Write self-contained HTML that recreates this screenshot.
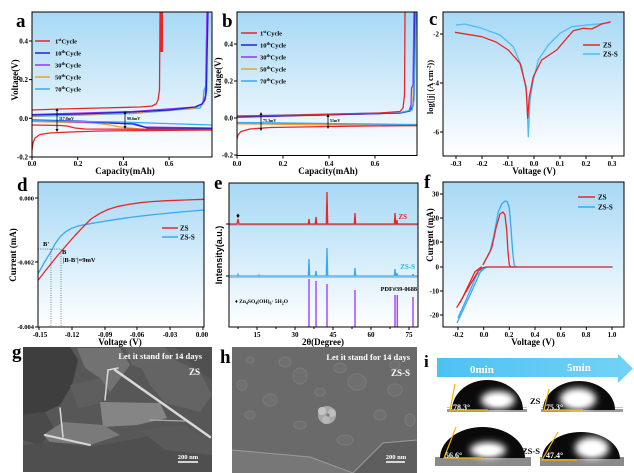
<!DOCTYPE html>
<html><head><meta charset="utf-8"><style>html,body{margin:0;padding:0;background:#fff}svg{display:block}</style></head>
<body>
<svg width="634" height="473" viewBox="0 0 634 473" xmlns="http://www.w3.org/2000/svg" font-family="'Liberation Serif', serif" font-weight="bold">
<defs>
<linearGradient id="bg" x1="0" y1="0" x2="0" y2="1"><stop offset="0" stop-color="#a6d8f5"/><stop offset="1" stop-color="#ffffff"/></linearGradient>
<linearGradient id="arr" x1="0" y1="0" x2="1" y2="0"><stop offset="0" stop-color="#4cc2f1"/><stop offset="1" stop-color="#73d2f6"/></linearGradient>
<clipPath id="ca"><rect x="32" y="12" width="180" height="145"/></clipPath>
<clipPath id="cb"><rect x="237" y="12" width="180" height="143.5"/></clipPath>
<clipPath id="cc"><rect x="443" y="12" width="181" height="144"/></clipPath>
<clipPath id="cd"><rect x="38" y="182" width="166" height="145"/></clipPath>
<clipPath id="cf"><rect x="443" y="182" width="181" height="145"/></clipPath>
<clipPath id="cg"><rect x="23" y="347" width="189" height="125"/></clipPath>
<filter id="blur" x="-50%" y="-50%" width="200%" height="200%"><feGaussianBlur stdDeviation="3.5"/></filter>
<filter id="blur1" x="-20%" y="-20%" width="140%" height="140%"><feGaussianBlur stdDeviation="1.5"/></filter>
</defs>
<rect width="634" height="473" fill="#fff"/>

<!-- ============ PANEL A ============ -->
<rect x="32" y="12" width="180" height="145" fill="url(#bg)"/>
<g clip-path="url(#ca)" fill="none" stroke-width="1.3" stroke-linejoin="round">
  <path d="M32,116.5 L133,113.5 L200,108 L203,103 L204,90 L205,88 L206,85 L207,12" stroke="#35aaf5"/>
  <path d="M32,116 L133,113 L195,108 L203,104 L206,95 L207.5,12" stroke="#f0a030"/>
  <path d="M32,114.5 L133,111.5 L195,107 L202,104 L205.5,96 L207,12" stroke="#9933ff"/>
  <path d="M32,115 L80,114 L133,112 L170,110 L195,107 L202,104 L205,100 L206.5,90 L207,60 L208,12" stroke="#2222dd"/>
  <path d="M32,110 L60,109 L100,108 L140,107 L152,106 L156,104 L158,100 L159.5,90 L160,12" stroke="#e8262a"/>
  <rect x="159.5" y="12" width="3.5" height="40" fill="#e8262a" stroke="none"/>
  <path d="M32,121.5 L95,123 L110,125 L120,127 L140,129 L213,130" stroke="#f0a030"/>
  <path d="M32,120.5 L110,123 L135,124 L145,127 L213,128" stroke="#9933ff"/>
  <path d="M32,120 L80,121 L110,123 L133,124 L140,126 L148,128 L213,128.5" stroke="#2222dd"/>
  <path d="M32,120.7 L120,122 L213,125" stroke="#35aaf5"/>
  <path d="M32,125 L60,125.5 L67,126 L75,128 L85,129 L213,129.5" stroke="#e8262a"/>
  <path d="M32,150 L33,143 L35,138 L40,134.5 L50,133 L70,132 L100,131 L213,130" stroke="#e8262a"/>
</g>
<g stroke="#000" stroke-width="0.8">
  <line x1="57" y1="109" x2="57" y2="131"/><line x1="125" y1="112" x2="125" y2="128"/>
</g>
<path d="M55.5,111 L57,108 L58.5,111 Z M55.5,129 L57,132 L58.5,129 Z M123.5,114 L125,111 L126.5,114 Z M123.5,126 L125,129 L126.5,126 Z" fill="#000"/>
<text x="59" y="120" font-size="4">117.8mV</text>
<text x="127" y="120" font-size="4">90.6mV</text>
<rect x="32" y="12" width="180" height="145" fill="none" stroke="#000" stroke-width="1"/>
<g stroke="#000" stroke-width="1">
  <line x1="29" y1="41" x2="32" y2="41"/><line x1="29" y1="79.6" x2="32" y2="79.6"/><line x1="29" y1="118.3" x2="32" y2="118.3"/><line x1="29" y1="157" x2="32" y2="157"/>
  <line x1="32" y1="157" x2="32" y2="160"/><line x1="77.7" y1="157" x2="77.7" y2="160"/><line x1="123.4" y1="157" x2="123.4" y2="160"/><line x1="169.1" y1="157" x2="169.1" y2="160"/>
</g>
<g font-size="7" text-anchor="end">
  <text x="28" y="43.5">0.4</text><text x="28" y="82">0.2</text><text x="28" y="121">0.0</text><text x="28" y="159.5">-0.2</text>
</g>
<g font-size="7" text-anchor="middle">
  <text x="32" y="166">0.0</text><text x="78" y="166">0.2</text><text x="123" y="166">0.4</text><text x="169" y="166">0.6</text>
</g>
<text x="125" y="174" font-size="9" text-anchor="middle">Capacity(mAh)</text>
<text x="15" y="83" font-size="9" text-anchor="middle" transform="rotate(-90 15 80)">Voltage(V)</text>
<text x="16" y="27" font-size="19">a</text>
<g stroke-width="1.5">
  <line x1="35" y1="41" x2="50" y2="41" stroke="#e8262a"/>
  <line x1="35" y1="53" x2="50" y2="53" stroke="#2222dd"/>
  <line x1="35" y1="65" x2="50" y2="65" stroke="#9933ff"/>
  <line x1="35" y1="77" x2="50" y2="77" stroke="#f0a030"/>
  <line x1="35" y1="89" x2="50" y2="89" stroke="#35aaf5"/>
</g>
<g font-size="6.5">
  <text x="55" y="43.5">1<tspan dy="-2.5" font-size="4.5">st</tspan><tspan dy="2.5">Cycle</tspan></text>
  <text x="55" y="55.5">10<tspan dy="-2.5" font-size="4.5">th</tspan><tspan dy="2.5">Cycle</tspan></text>
  <text x="55" y="67.5">30<tspan dy="-2.5" font-size="4.5">th</tspan><tspan dy="2.5">Cycle</tspan></text>
  <text x="55" y="79.5">50<tspan dy="-2.5" font-size="4.5">th</tspan><tspan dy="2.5">Cycle</tspan></text>
  <text x="55" y="91.5">70<tspan dy="-2.5" font-size="4.5">th</tspan><tspan dy="2.5">Cycle</tspan></text>
</g>

<!-- ============ PANEL B ============ -->
<rect x="237" y="12" width="180" height="143.5" fill="url(#bg)"/>
<g clip-path="url(#cb)" fill="none" stroke-width="1.3" stroke-linejoin="round">
  <path d="M237,117.5 L400,113 L410,111 L413,104 L414.5,12" stroke="#f0a030"/>
  <path d="M237,117 L400,113 L409,111 L411,105 L411.5,88 L412,87 L413,85 L414,12" stroke="#9933ff"/>
  <path d="M237,117 L400,113 L410,111 L413,106 L414,95 L415,12" stroke="#2222dd"/>
  <path d="M237,116 L400,112.5 L412,110 L414,100 L416,12" stroke="#35aaf5"/>
  <path d="M237,116 L300,115 L380,113 L400,111.5 L403,108 L404.5,95 L405,12" stroke="#e8262a"/>
  <path d="M237,123.5 L417,125.5" stroke="#2222dd"/>
  <path d="M237,123.2 L417,125.2" stroke="#9933ff"/>
  <path d="M237,123.8 L417,125.8" stroke="#f0a030"/>
  <path d="M237,122.5 L417,124.5" stroke="#35aaf5"/>
  <path d="M237,139 L238,135 L241,131.5 L250,129 L270,127.5 L330,126.5 L417,125.5" stroke="#e8262a"/>
</g>
<g stroke="#000" stroke-width="0.8">
  <line x1="261" y1="113" x2="261" y2="130"/><line x1="328" y1="115" x2="328" y2="128"/>
</g>
<path d="M259.5,115 L261,112 L262.5,115 Z M259.5,128 L261,131 L262.5,128 Z M326.5,117 L328,114 L329.5,117 Z M326.5,126 L328,129 L329.5,126 Z" fill="#000"/>
<text x="263" y="122" font-size="4">75.3mV</text>
<text x="330" y="122" font-size="4">51mV</text>
<rect x="237" y="12" width="180" height="143.5" fill="none" stroke="#000" stroke-width="1"/>
<g stroke="#000" stroke-width="1">
  <line x1="234" y1="44" x2="237" y2="44"/><line x1="234" y1="81" x2="237" y2="81"/><line x1="234" y1="118" x2="237" y2="118"/><line x1="234" y1="155" x2="237" y2="155"/>
  <line x1="237" y1="155.5" x2="237" y2="158.5"/><line x1="283" y1="155.5" x2="283" y2="158.5"/><line x1="329" y1="155.5" x2="329" y2="158.5"/><line x1="375" y1="155.5" x2="375" y2="158.5"/>
</g>
<g font-size="7" text-anchor="end">
  <text x="233" y="46.5">0.4</text><text x="233" y="83.5">0.2</text><text x="233" y="120.5">0.0</text><text x="233" y="157.5">-0.2</text>
</g>
<g font-size="7" text-anchor="middle">
  <text x="237" y="166">0.0</text><text x="283" y="166">0.2</text><text x="329" y="166">0.4</text><text x="375" y="166">0.6</text>
</g>
<text x="328" y="174" font-size="9" text-anchor="middle">Capacity(mAh)</text>
<text x="218" y="81" font-size="9" text-anchor="middle" transform="rotate(-90 218 78)">Voltage(V)</text>
<text x="222" y="27" font-size="19">b</text>
<g stroke-width="1.5">
  <line x1="241" y1="33" x2="257" y2="33" stroke="#e8262a"/>
  <line x1="241" y1="45" x2="257" y2="45" stroke="#2222dd"/>
  <line x1="241" y1="57" x2="257" y2="57" stroke="#9933ff"/>
  <line x1="241" y1="69" x2="257" y2="69" stroke="#f0a030"/>
  <line x1="241" y1="81" x2="257" y2="81" stroke="#35aaf5"/>
</g>
<g font-size="6.5">
  <text x="260" y="35.5">1<tspan dy="-2.5" font-size="4.5">st</tspan><tspan dy="2.5">Cycle</tspan></text>
  <text x="260" y="47.5">10<tspan dy="-2.5" font-size="4.5">th</tspan><tspan dy="2.5">Cycle</tspan></text>
  <text x="260" y="59.5">30<tspan dy="-2.5" font-size="4.5">th</tspan><tspan dy="2.5">Cycle</tspan></text>
  <text x="260" y="71.5">50<tspan dy="-2.5" font-size="4.5">th</tspan><tspan dy="2.5">Cycle</tspan></text>
  <text x="260" y="83.5">70<tspan dy="-2.5" font-size="4.5">th</tspan><tspan dy="2.5">Cycle</tspan></text>
</g>

<!-- ============ PANEL C ============ -->
<rect x="443" y="12" width="181" height="144" fill="url(#bg)"/>
<g clip-path="url(#cc)" fill="none" stroke-width="1.3" stroke-linejoin="round">
  <path d="M456,25 L465,24 L481.7,28.3 L500,35 L513.3,46.7 L521.7,66.7 L526.7,93.3 L528.3,136.7 L530,100 L533.3,80 L538.3,60 L548.3,45 L560,33.3 L571.7,26.7 L586.7,25 L598.3,24 L610,22.7" stroke="#4cbcf5"/>
  <path d="M455,32.3 L481.7,36.7 L496,42 L508.3,50 L520,63.3 L526,86.7 L527.7,118.3 L529.3,96.7 L533.3,76.7 L541.7,60 L556.7,50 L566.7,38.3 L573.3,30.7 L583.3,28.3 L591.7,29 L601.7,24 L610.7,21.7" stroke="#e8262a"/>
</g>
<rect x="443" y="12" width="181" height="144" fill="none" stroke="#000" stroke-width="1"/>
<g stroke="#000" stroke-width="1">
  <line x1="440" y1="34" x2="443" y2="34"/><line x1="440" y1="83" x2="443" y2="83"/><line x1="440" y1="132" x2="443" y2="132"/>
  <line x1="456" y1="156" x2="456" y2="159"/><line x1="482" y1="156" x2="482" y2="159"/><line x1="508" y1="156" x2="508" y2="159"/><line x1="534" y1="156" x2="534" y2="159"/><line x1="560" y1="156" x2="560" y2="159"/><line x1="586" y1="156" x2="586" y2="159"/><line x1="612" y1="156" x2="612" y2="159"/>
</g>
<g font-size="7" text-anchor="end">
  <text x="439" y="36.5">-2</text><text x="439" y="85.5">-4</text><text x="439" y="134.5">-6</text>
</g>
<g font-size="7" text-anchor="middle">
  <text x="456" y="166">-0.3</text><text x="482" y="166">-0.2</text><text x="508" y="166">-0.1</text><text x="534" y="166">0.0</text><text x="560" y="166">0.1</text><text x="586" y="166">0.2</text><text x="612" y="166">0.3</text>
</g>
<text x="534" y="174" font-size="9" text-anchor="middle">Voltage (V)</text>
<text x="430" y="90" font-size="8.5" text-anchor="middle" transform="rotate(-90 430 87)">log(|j| (A cm<tspan dy="-2.5" font-size="5.5">-2</tspan><tspan dy="2.5">))</tspan></text>
<text x="429" y="25" font-size="19">c</text>
<line x1="583" y1="45" x2="600" y2="45" stroke="#e8262a" stroke-width="1.5"/>
<line x1="583" y1="54" x2="600" y2="54" stroke="#4cbcf5" stroke-width="1.5"/>
<g font-size="7"><text x="603" y="47.5">ZS</text><text x="603" y="56.5">ZS-S</text></g>

<!-- ============ PANEL D ============ -->
<rect x="38" y="182" width="166" height="145" fill="url(#bg)"/>
<g clip-path="url(#cd)" fill="none" stroke-width="1.3" stroke-linejoin="round">
  <path d="M38.3,273.3 L44,263 L50,253.3 L55,244 L60,236.7 L66,231.5 L71.7,228.3 L78,226 L86.7,224.3 L100,222 L116.7,219.3 L133,217 L150,215 L175,212.5 L204,210" stroke="#35aaf5"/>
  <path d="M38.3,280 L44,272.5 L50,265 L58,255 L66.7,245 L75,235.5 L83.3,226.7 L91,219 L100,213.3 L108,209.5 L116.7,206.7 L128,204.5 L140,202.7 L153,201.5 L166.7,200.7 L185,200 L204,199.3" stroke="#e8262a"/>
</g>
<g stroke="#555" stroke-width="0.7" stroke-dasharray="1,1.3" fill="none">
  <line x1="38" y1="249" x2="61" y2="249"/><line x1="51" y1="249" x2="51" y2="327"/><line x1="61" y1="249" x2="61" y2="327"/>
</g>
<g font-size="6.5">
  <text x="43" y="246">B'</text><text x="62" y="254">B</text><text x="63" y="262">|B-B'|=9mV</text>
</g>
<rect x="38" y="182" width="166" height="145" fill="none" stroke="#000" stroke-width="1"/>
<g stroke="#000" stroke-width="1">
  <line x1="35" y1="198" x2="38" y2="198"/><line x1="35" y1="262" x2="38" y2="262"/><line x1="35" y1="327" x2="38" y2="327"/>
  <line x1="39" y1="327" x2="39" y2="330"/><line x1="72" y1="327" x2="72" y2="330"/><line x1="105" y1="327" x2="105" y2="330"/><line x1="137" y1="327" x2="137" y2="330"/><line x1="170" y1="327" x2="170" y2="330"/><line x1="203" y1="327" x2="203" y2="330"/>
</g>
<g font-size="6.5" text-anchor="end">
  <text x="34" y="200.5">0.000</text><text x="34" y="264.5">-0.002</text><text x="34" y="329">-0.004</text>
</g>
<g font-size="7" text-anchor="middle">
  <text x="40" y="337">-0.15</text><text x="72" y="337">-0.12</text><text x="105" y="337">-0.09</text><text x="137" y="337">-0.06</text><text x="170" y="337">-0.03</text><text x="202" y="337">0.00</text>
</g>
<text x="120" y="345" font-size="9" text-anchor="middle">Voltage (V)</text>
<text x="13" y="258" font-size="9" text-anchor="middle" transform="rotate(-90 13 255)">Current (mA)</text>
<text x="17" y="191" font-size="19">d</text>
<line x1="162" y1="228" x2="178" y2="228" stroke="#e8262a" stroke-width="1.5"/>
<line x1="162" y1="237" x2="178" y2="237" stroke="#35aaf5" stroke-width="1.5"/>
<g font-size="7"><text x="180" y="230.5">ZS</text><text x="180" y="239.5">ZS-S</text></g>

<!-- ============ PANEL E ============ -->
<rect x="229" y="183" width="189" height="144" fill="url(#bg)"/>
<line x1="229" y1="225" x2="418" y2="225" stroke="#666" stroke-width="0.6"/>
<line x1="229" y1="277.5" x2="418" y2="277.5" stroke="#888" stroke-width="0.6"/>
<path d="M229,224 L237,224 L238,219 L239,224 L308.3,224 L309,219 L309.7,224 L315.3,224 L316,217 L316.7,224 L326.3,224 L327,192 L327.7,224 L354.3,224 L355,213 L355.7,224 L394.3,224 L395,213 L395.7,224 L396.5,224 L397,220 L397.5,224 L418,224" fill="none" stroke="#e8262a" stroke-width="1.3"/>
<path d="M238,213.5 L239.6,215.8 L238,218 L236.4,215.8 Z" fill="#000"/>
<path d="M229,276 L237.5,276 L238,274.5 L238.5,276 L258.5,276 L259,275 L259.5,276 L308.3,276 L309,259 L309.7,276 L315.3,276 L316,271 L316.7,276 L326.3,276 L327,248 L327.7,276 L354.3,276 L355,268 L355.7,276 L394.3,276 L395,269 L395.7,276 L396.5,276 L397,273 L397.5,276 L412.5,276 L413,274 L413.5,276 L418,276" fill="none" stroke="#35aaf5" stroke-width="1.3"/>
<g stroke="#a64dff" stroke-width="1.5">
  <line x1="309" y1="279" x2="309" y2="327"/><line x1="316" y1="281" x2="316" y2="327"/><line x1="327" y1="284" x2="327" y2="327"/><line x1="355" y1="290" x2="355" y2="327"/><line x1="395" y1="295" x2="395" y2="327"/><line x1="397.3" y1="295" x2="397.3" y2="327"/><line x1="413" y1="297" x2="413" y2="327"/>
</g>
<text x="407" y="219" font-size="7" fill="#e8262a" text-anchor="end">ZS</text>
<text x="415" y="269" font-size="7" fill="#35aaf5" text-anchor="end">ZS-S</text>
<text x="417" y="291" font-size="6.3" text-anchor="end">PDF#39-0688</text>
<text x="235" y="303" font-size="5.5">♦ Zn<tspan dy="1.5" font-size="4">4</tspan><tspan dy="-1.5">SO</tspan><tspan dy="1.5" font-size="4">4</tspan><tspan dy="-1.5">(OH)</tspan><tspan dy="1.5" font-size="4">6</tspan><tspan dy="-1.5">· 5H</tspan><tspan dy="1.5" font-size="4">2</tspan><tspan dy="-1.5">O</tspan></text>
<rect x="229" y="183" width="189" height="144" fill="none" stroke="#000" stroke-width="1"/>
<g stroke="#000" stroke-width="1">
  <line x1="226" y1="224" x2="229" y2="224"/><line x1="226" y1="276" x2="229" y2="276"/>
  <line x1="257" y1="327" x2="257" y2="330"/><line x1="295" y1="327" x2="295" y2="330"/><line x1="333" y1="327" x2="333" y2="330"/><line x1="371" y1="327" x2="371" y2="330"/><line x1="409" y1="327" x2="409" y2="330"/>
  <line x1="238" y1="327" x2="238" y2="329"/><line x1="276" y1="327" x2="276" y2="329"/><line x1="314" y1="327" x2="314" y2="329"/><line x1="352" y1="327" x2="352" y2="329"/><line x1="390" y1="327" x2="390" y2="329"/>
</g>
<g font-size="7" text-anchor="middle">
  <text x="257" y="337">15</text><text x="295" y="337">30</text><text x="333" y="337">45</text><text x="371" y="337">60</text><text x="409" y="337">75</text>
</g>
<text x="323" y="345" font-size="9" text-anchor="middle">2θ(Degree)</text>
<text x="219" y="258" font-size="9" text-anchor="middle" font-family="'Liberation Sans', sans-serif" transform="rotate(-90 219 255)">Intensity(a.u.)</text>
<text x="214" y="189" font-size="19">e</text>

<!-- ============ PANEL F ============ -->
<rect x="443" y="182" width="181" height="145" fill="url(#bg)"/>
<g clip-path="url(#cf)" fill="none" stroke-width="1.3" stroke-linejoin="round">
  <path d="M457,323 L470,295 L481.7,269 L488,267 L613,267" stroke="#35aaf5"/>
  <path d="M458,318 L466,300 L476.7,275 L486.7,266.7" stroke="#35aaf5"/>
  <path d="M482.7,265 L490,252 L494,235 L498.3,211.7 L501.7,204 L505,201 L507.3,201.7 L509.3,208 L511,228 L512.7,252 L514.3,265.7 L516.7,267" stroke="#35aaf5"/>
  <path d="M456.7,307.7 L470,285 L478.3,271 L482,268 L486,267 L612,267" stroke="#e8262a"/>
  <path d="M460,303 L475,271.7 L481.7,266.7" stroke="#e8262a"/>
  <path d="M483,265 L491.7,248 L496,228 L500,214 L503,212 L505,215 L506.7,230 L508,252 L509.3,265 L511,267 L514,267" stroke="#e8262a"/>
</g>
<rect x="443" y="182" width="181" height="145" fill="none" stroke="#000" stroke-width="1"/>
<g stroke="#000" stroke-width="1">
  <line x1="440" y1="194" x2="443" y2="194"/><line x1="440" y1="218" x2="443" y2="218"/><line x1="440" y1="242" x2="443" y2="242"/><line x1="440" y1="267" x2="443" y2="267"/><line x1="440" y1="291" x2="443" y2="291"/><line x1="440" y1="315" x2="443" y2="315"/>
  <line x1="458" y1="327" x2="458" y2="330"/><line x1="483.7" y1="327" x2="483.7" y2="330"/><line x1="509.3" y1="327" x2="509.3" y2="330"/><line x1="535" y1="327" x2="535" y2="330"/><line x1="560.7" y1="327" x2="560.7" y2="330"/><line x1="586.3" y1="327" x2="586.3" y2="330"/><line x1="612" y1="327" x2="612" y2="330"/>
</g>
<g font-size="7" text-anchor="end">
  <text x="439" y="196.5">30</text><text x="439" y="220.5">20</text><text x="439" y="244.5">10</text><text x="439" y="269.5">0</text><text x="439" y="293.5">-10</text><text x="439" y="317.5">-20</text>
</g>
<g font-size="7" text-anchor="middle">
  <text x="458" y="337">-0.2</text><text x="484" y="337">0.0</text><text x="509" y="337">0.2</text><text x="535" y="337">0.4</text><text x="561" y="337">0.6</text><text x="586" y="337">0.8</text><text x="612" y="337">1.0</text>
</g>
<text x="533" y="345" font-size="9" text-anchor="middle">Voltage (V)</text>
<text x="430" y="238" font-size="9" text-anchor="middle" transform="rotate(-90 430 235)">Current (mA)</text>
<text x="424" y="188" font-size="19">f</text>
<line x1="578" y1="197" x2="595" y2="197" stroke="#e8262a" stroke-width="1.5"/>
<line x1="578" y1="207" x2="595" y2="207" stroke="#35aaf5" stroke-width="1.5"/>
<g font-size="7"><text x="598" y="199.5">ZS</text><text x="598" y="209.5">ZS-S</text></g>

<!-- ============ PANEL G (SEM) ============ -->
<g clip-path="url(#cg)">
<rect x="23" y="347" width="189" height="125" fill="#575757"/>
<polygon points="23,347 70,347 78,360 72,385 60,405 45,412 23,415" fill="#3e3e3e"/>
<polygon points="23,415 45,412 55,430 40,445 23,440" fill="#4a4a4a"/>
<polygon points="77,348 120,348 130,365 110,392 100,378 85,368" fill="#727272"/>
<polygon points="125,347 165,347 175,360 150,372 132,365" fill="#656565"/>
<polygon points="140,365 175,360 200,372 212,395 200,412 165,403 150,385" fill="#646464"/>
<polygon points="175,347 212,347 212,380 195,368" fill="#505050"/>
<polygon points="70,385 100,378 110,392 98,404 78,408" fill="#5e5e5e"/>
<polygon points="100,402 160,403 167,418 137,425 103,427" fill="#858585"/>
<polygon points="43,435 63,422 103,425 120,435 90,445 50,442" fill="#7a7a7a"/>
<polygon points="23,445 50,442 90,447 130,440 170,432 212,445 212,472 23,472" fill="#4f4f4f"/>
<polygon points="140,430 180,425 212,440 212,455 165,450" fill="#5a5a5a"/>
<g stroke="#d8d8d8" stroke-linecap="round" fill="none">
  <line x1="115" y1="370" x2="210" y2="437" stroke-width="2.5"/>
  <line x1="45" y1="435" x2="90" y2="445" stroke-width="2"/>
  <line x1="60" y1="408" x2="63" y2="437" stroke-width="1.5"/>
  <line x1="108" y1="370" x2="105" y2="400" stroke-width="1.5"/>
  <line x1="150" y1="420" x2="185" y2="421" stroke-width="1.2" stroke="#aaa"/>
  <line x1="108" y1="370" x2="118" y2="368" stroke-width="1.5"/>
</g>
</g>
<text x="202" y="359" font-size="8.5" fill="#fff" text-anchor="end">Let it stand for 14 days</text>
<text x="200" y="375" font-size="9" fill="#fff" text-anchor="end">ZS</text>
<text x="188" y="459" font-size="6.5" fill="#fff" text-anchor="middle">200 nm</text>
<line x1="178" y1="462" x2="198" y2="462" stroke="#fff" stroke-width="1.5"/>
<text x="12" y="358" font-size="19">g</text>

<!-- ============ PANEL H (SEM) ============ -->
<rect x="232" y="347" width="185" height="126" fill="#6a6a6a"/>
<g fill="#6f6f6f" stroke="#7b7b7b" stroke-width="1">
  <ellipse cx="250" cy="360" rx="4" ry="3"/><ellipse cx="285" cy="362" rx="6" ry="5"/><ellipse cx="300" cy="376" rx="7" ry="8"/>
  <ellipse cx="340" cy="368" rx="6" ry="5"/><ellipse cx="357" cy="382" rx="9" ry="8"/><ellipse cx="395" cy="390" rx="7" ry="6"/>
  <ellipse cx="270" cy="400" rx="7" ry="6"/><ellipse cx="250" cy="415" rx="5" ry="4"/><ellipse cx="380" cy="415" rx="6" ry="5"/>
  <ellipse cx="410" cy="420" rx="5" ry="6"/><ellipse cx="300" cy="425" rx="6" ry="4"/><ellipse cx="345" cy="440" rx="8" ry="5"/>
  <ellipse cx="242" cy="385" rx="5" ry="5"/><ellipse cx="320" cy="392" rx="5" ry="4"/><ellipse cx="395" cy="365" rx="5" ry="4"/>
</g>
<polygon points="232,450 310,457 353,473 232,473" fill="#777"/>
<polygon points="353,473 383,443 417,440 417,473" fill="#5e5e5e"/>
<polyline points="232,450 310,457 353,473" fill="none" stroke="#9a9a9a" stroke-width="1"/>
<polyline points="353,473 383,443 417,440" fill="none" stroke="#9a9a9a" stroke-width="1"/>
<g>
  <circle cx="327" cy="415" r="9" fill="#a8a8a8"/>
  <circle cx="322" cy="411" r="4" fill="#c4c4c4"/><circle cx="332" cy="413" r="4" fill="#bdbdbd"/><circle cx="326" cy="420" r="4" fill="#b8b8b8"/>
  <circle cx="328" cy="415" r="1.5" fill="#777"/>
</g>
<text x="410" y="360" font-size="8.5" fill="#fff" text-anchor="end">Let it stand for 14 days</text>
<text x="410" y="376" font-size="9" fill="#fff" text-anchor="end">ZS-S</text>
<text x="396" y="459" font-size="6.5" fill="#fff" text-anchor="middle">200 nm</text>
<line x1="386" y1="462" x2="405" y2="462" stroke="#fff" stroke-width="1.5"/>
<text x="220" y="363" font-size="19">h</text>

<!-- ============ PANEL I ============ -->
<text x="424" y="367" font-size="17">i</text>
<path d="M437,358 L618,358 L618,354 L633,368.5 L618,383 L618,377 L437,377 Z" fill="url(#arr)"/>
<text x="470" y="373" font-size="11" fill="#fff">0min</text>
<text x="567" y="371" font-size="11" fill="#fff">5min</text>
<!-- top row -->
<rect x="447" y="407" width="80" height="1" fill="#c8c8b8"/>
<rect x="447" y="409" width="80" height="3" fill="#9a9a9a"/>
<rect x="541" y="407" width="82" height="1" fill="#c8c8b8"/>
<rect x="541" y="409" width="82" height="3" fill="#9a9a9a"/>
<path d="M452,410 A35.5,30 0 0 1 523,410 Z" fill="#0a0a0a"/>
<ellipse cx="498" cy="400" rx="17" ry="9" fill="#fff" filter="url(#blur)"/>
<ellipse cx="498" cy="401" rx="8" ry="4" fill="#fff" filter="url(#blur1)"/>
<path d="M543,410 A36,29 0 0 1 615,410 Z" fill="#0a0a0a"/>
<ellipse cx="578" cy="399" rx="18" ry="11" fill="#fff" filter="url(#blur)"/>
<ellipse cx="578" cy="400" rx="9" ry="5" fill="#fff" filter="url(#blur1)"/>
<g stroke="#f5b400" stroke-width="1.2" fill="none">
  <polyline points="455,384 450,410 488,410"/>
  <polyline points="549,389 544,410 583,410"/>
</g>
<text x="453" y="410" font-size="8" fill="#fff">78.3°</text>
<text x="546" y="410" font-size="8" fill="#fff">75.3°</text>
<text x="530" y="404" font-size="8.5">ZS</text>
<!-- bottom row -->
<rect x="435" y="457" width="96" height="9" fill="#8a8a8a"/>
<rect x="540" y="457" width="84" height="9" fill="#8a8a8a"/>
<path d="M440,458 A42.5,31 0 0 1 525,458 Z" fill="#0a0a0a"/>
<ellipse cx="488" cy="450" rx="18" ry="8" fill="#fff" filter="url(#blur)"/>
<ellipse cx="488" cy="451" rx="9" ry="4" fill="#fff" filter="url(#blur1)"/>
<path d="M542,459 A39,27 0 0 1 620,459 Z" fill="#0a0a0a"/>
<ellipse cx="592" cy="448" rx="17" ry="11" fill="#fff" filter="url(#blur)"/>
<ellipse cx="592" cy="449" rx="8" ry="5" fill="#fff" filter="url(#blur1)"/>
<g stroke="#f5b400" stroke-width="1.2" fill="none">
  <polyline points="456,427 444,458 483,458"/>
  <polyline points="558,432 542,460 577,460"/>
</g>
<text x="445" y="458" font-size="8" fill="#fff">56.6°</text>
<text x="546" y="458" font-size="8" fill="#fff">47.4°</text>
<text x="522" y="454" font-size="8.5">ZS-S</text>
</svg>
</body></html>
